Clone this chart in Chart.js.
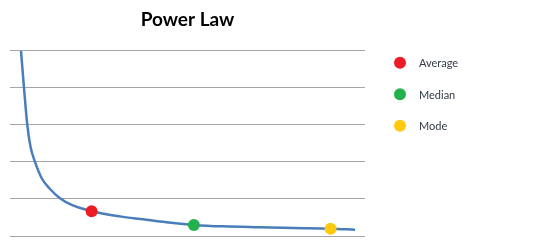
<!DOCTYPE html>
<html>
<head>
<meta charset="utf-8">
<script src="https://cdn.jsdelivr.net/npm/chart.js@4/dist/chart.umd.min.js"></script>
<style>
  html, body { margin: 0; padding: 0; background: #fff; }
  #wrap { width: 550px; height: 247px; }
</style>
</head>
<body>
<div id="wrap"><canvas id="chart"></canvas></div>
<script>
// curve (x on a 0..100 scale, y in grid units)
const curveX = [3.1, 3.94, 4.87, 5.8, 7.04, 8.93, 11.07, 14.08, 17.38, 23.0, 31.0, 37.5, 44.0, 51.8, 60.0, 70.4, 80.0, 90.3, 97.2];
const curveY = [5.0, 4.0, 3.0, 2.4, 2.0, 1.56, 1.29, 1.02, 0.84, 0.67, 0.53, 0.45, 0.37, 0.30, 0.26, 0.235, 0.215, 0.197, 0.17];

const statNames = ["Average", "Median", "Mode"];
const statX = [23.0, 51.8, 90.3];
const statY = [0.67, 0.30, 0.197];
const statColors = ["#ed1c24", "#22b14c", "#ffc90e"];

const yTicks = [0, 1, 2, 3, 4, 5];

const FONT = "Lato, 'Open Sans', 'Liberation Sans', sans-serif";

const sideLegend = {
  id: "sideLegend",
  afterDraw(chart) {
    const { ctx, chartArea } = chart;
    ctx.save();
    ctx.font = "11px " + FONT;
    ctx.textBaseline = "middle";
    statNames.forEach((name, i) => {
      const cx = chartArea.right + 35;
      const cy = chartArea.top + 12 + i * 31.5;
      ctx.beginPath();
      ctx.arc(cx, cy, 6, 0, Math.PI * 2);
      ctx.fillStyle = statColors[i];
      ctx.fill();
      ctx.fillStyle = "#333a45";
      ctx.fillText(name, cx + 19, cy + 1);
    });
    ctx.restore();
  },
};

const datasets = [
  {
    label: "Power Law",
    data: curveX.map((x, i) => ({ x, y: curveY[i] })),
    borderColor: "#4a7ebb",
    borderWidth: 2.5,
    pointRadius: 0,
    cubicInterpolationMode: "monotone",
    showLine: true,
    clip: false,
    order: 2,
  },
];

statNames.forEach((name, i) => {
  datasets.push({
    label: name,
    data: [{ x: statX[i], y: statY[i] }],
    backgroundColor: statColors[i],
    borderColor: statColors[i],
    pointRadius: 6,
    pointBorderWidth: 0,
    showLine: false,
    clip: false,
    order: 1,
  });
});

new Chart(document.getElementById("chart"), {
  type: "scatter",
  data: { datasets },
  options: {
    responsive: true,
    maintainAspectRatio: false,
    animation: false,
    layout: { padding: { left: 10, right: 185, top: 0, bottom: 11 } },
    plugins: {
      legend: { display: false },
      tooltip: { enabled: false },
      title: {
        display: true,
        text: "Power Law",
        fullSize: false,
        color: "#000",
        font: { family: FONT, size: 19, weight: "bold" },
        padding: { top: 8, bottom: 20 },
      },
    },
    scales: {
      x: { type: "linear", min: 0, max: 100, display: false },
      y: {
        min: yTicks[0],
        max: yTicks[yTicks.length - 1],
        afterBuildTicks: (scale) => {
          scale.ticks = yTicks.map((v) => ({ value: v }));
        },
        ticks: { display: false },
        border: { display: false },
        grid: { color: "#a6a6a6", lineWidth: 1, drawTicks: false },
      },
    },
  },
  plugins: [sideLegend],
});
</script>
</body>
</html>
